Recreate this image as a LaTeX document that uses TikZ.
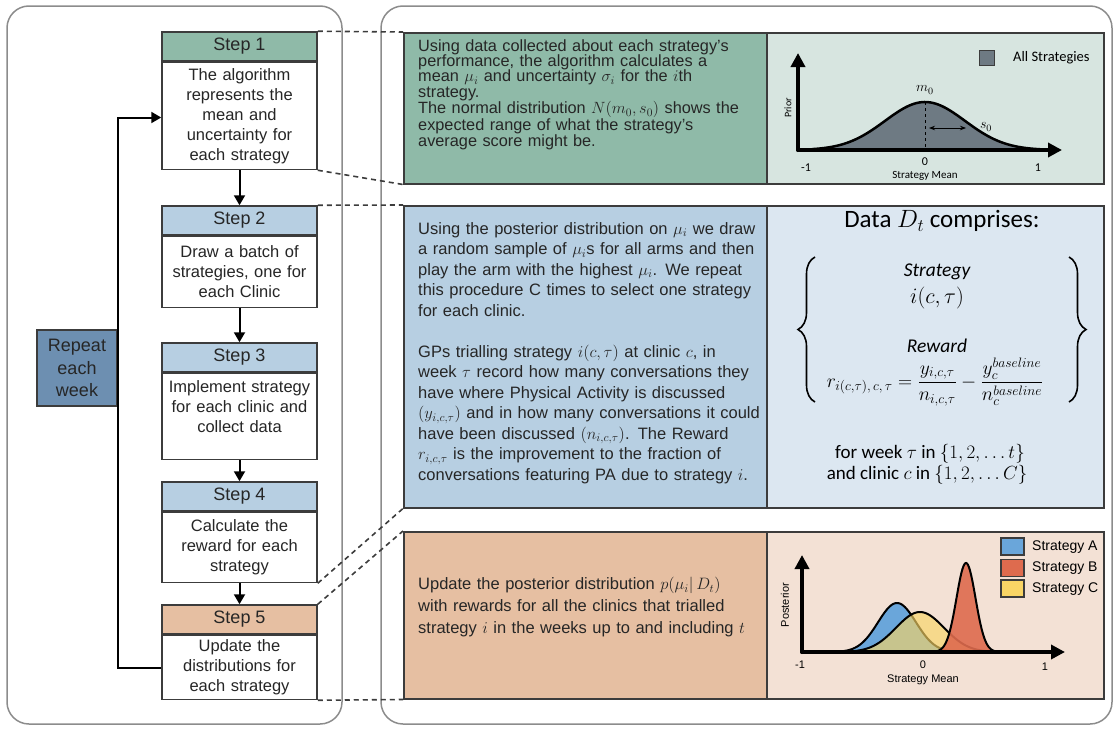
\RequirePackage{fix-cm}
\documentclass[tikz,border=0pt]{standalone}
\usepackage{amsmath}
\usepackage{fontspec}
\setmainfont{Liberation Sans}
\newfontfamily\calibfont{Carlito}
\usepackage{tikz}
\usetikzlibrary{calc, arrows.meta, decorations.pathreplacing}

\definecolor{stepgreen}{HTML}{8FBAA8}
\definecolor{panelgreen}{HTML}{D7E5E0}
\definecolor{stepblue}{HTML}{B7CFE2}
\definecolor{panelblue}{HTML}{DCE7F1}
\definecolor{steporange}{HTML}{E6BFA2}
\definecolor{panelorange}{HTML}{F3E1D5}
\definecolor{repeatblue}{HTML}{6D8FB1}
\definecolor{priorgrey}{HTML}{6E7A83}
\definecolor{stratA}{HTML}{6AA6DA}
\definecolor{stratB}{HTML}{DE6B4E}
\definecolor{stratC}{HTML}{F9D565}
\definecolor{framegrey}{HTML}{8C8C8C}
\definecolor{edgegrey}{HTML}{3C3C3C}
\definecolor{inkgrey}{HTML}{262626}

\tikzstyle{container} = [draw=framegrey, line width=1.5pt, rounded corners=22pt]
\tikzstyle{stephead} = [rectangle, draw=edgegrey, line width=1.5pt, minimum width=155pt, minimum height=29pt, inner sep=0pt, text=inkgrey, font=\fontsize{18}{20}\selectfont]
\tikzstyle{stepbody} = [rectangle, draw=edgegrey, line width=1.5pt, fill=white, anchor=north, minimum width=155pt, text width=150pt, align=center, inner sep=0pt, text=inkgrey, font=\fontsize{16.5}{20}\selectfont]
\tikzstyle{repeatbox} = [rectangle, draw=edgegrey, line width=1.5pt, fill=repeatblue, minimum width=80pt, minimum height=76pt, align=center, inner sep=0pt, text=inkgrey, font=\fontsize{18}{22.5}\selectfont]
\tikzstyle{panel} = [rectangle, draw=edgegrey, line width=1.5pt, anchor=north west, inner sep=0pt]
\tikzstyle{paneltext} = [anchor=north west, inner sep=0pt, text width=350pt, align=left, text=inkgrey]
\tikzstyle{steparrow} = [-{Triangle[length=10pt,width=11pt]}, line width=2pt, black]
\tikzstyle{zoomline} = [dash pattern=on 5pt off 4pt, line width=1.6pt, edgegrey]
\tikzstyle{axisline} = [-{Triangle[length=14pt,width=14pt]}, line width=4pt, line cap=round]
\tikzstyle{ticklab} = [inner sep=0pt, font=\calibfont\fontsize{12}{12}\selectfont]
\tikzstyle{postlab} = [inner sep=0pt, font=\fontsize{11}{11}\selectfont]
\tikzstyle{legsquare} = [rectangle, draw=edgegrey, line width=1.5pt, minimum width=23pt, minimum height=17pt, inner sep=0pt]
\tikzstyle{datatext} = [inner sep=0pt, font=\calibfont\fontsize{19}{20}\selectfont]

\begin{document}
\begin{tikzpicture}[x=1pt, y=-1pt]

        \useasboundingbox (0,0) rectangle (1116,728);

        \draw[container] (7,6) rectangle (342,724);
        \draw[container] (381,6) rectangle (1112,724);

        \node (head1) [stephead, fill=stepgreen] at (239.5,46.5) {Step 1};
        \node (body1) [stepbody, minimum height=107pt] at (head1.south) {The algorithm\\represents the\\mean and\\uncertainty for\\each strategy};

        \node (head2) [stephead, fill=stepblue] at (239.5,220.5) {Step 2};
        \node (body2) [stepbody, minimum height=71pt] at (head2.south) {Draw a batch of\\strategies, one for\\each Clinic};

        \node (head3) [stephead, fill=stepblue] at (239.5,357.5) {Step 3};
        \node (body3) [stepbody, minimum height=86pt] at (head3.south) {Implement strategy\\for each clinic and\\collect data\\\mbox{}};

        \node (head4) [stephead, fill=stepblue] at (239.5,496.5) {Step 4};
        \node (body4) [stepbody, minimum height=70pt] at (head4.south) {Calculate the\\reward for each\\strategy};

        \node (head5) [stephead, fill=steporange] at (239.5,619.5) {Step 5};
        \node (body5) [stepbody, minimum height=64pt] at (head5.south) {Update the\\distributions for\\each strategy};

        \node (repeat) [repeatbox] at (77,368) {Repeat\\each\\week};

        \draw[steparrow] (body1) -- (head2);
        \draw[steparrow] (body2) -- (head3);
        \draw[steparrow] (body3) -- (head4);
        \draw[steparrow] (body4) -- (head5);
        \draw[steparrow] (body5.west) -| (repeat.east) |- ([yshift=-1.5pt]body1.west);

        \node (pone) [panel, fill=stepgreen, minimum width=363pt, minimum height=151pt] at (403,32) {};
        \node (gone) [panel, fill=panelgreen, minimum width=337pt, minimum height=151pt] at (766,32) {};
        \node (ptwo) [panel, fill=stepblue, minimum width=363pt, minimum height=302pt] at (403,205) {};
        \node (gtwo) [panel, fill=panelblue, minimum width=337pt, minimum height=302pt] at (766,205) {};
        \node (pthree) [panel, fill=steporange, minimum width=363pt, minimum height=167pt] at (403,531) {};
        \node (gthree) [panel, fill=panelorange, minimum width=337pt, minimum height=167pt] at (766,531) {};

        \draw[zoomline] (head1.north east) -- (pone.north west);
        \draw[zoomline] (body1.south east) -- (pone.south west);
        \draw[zoomline] (head2.north east) -- (ptwo.north west);
        \draw[zoomline] (body4.south east) -- (ptwo.south west);
        \draw[zoomline] (head5.north east) -- (pthree.north west);
        \draw[zoomline] (body5.south east) -- (pthree.south west);

        \node (tone) [paneltext, font=\fontsize{16.3}{15.4}\selectfont] at (418,39) {Using data collected about each strategy's\\performance, the algorithm calculates a\\mean $\mu_i$ and uncertainty $\sigma_i$ for the $i$th\\strategy.\\The normal distribution $N(m_0,s_0)$ shows the\\expected range of what the strategy's\\average score might be.};

        \node (ttwo) [paneltext, font=\fontsize{16.5}{20.5}\selectfont] at (418,222) {Using the posterior distribution on $\mu_i$ we draw\\a random sample of $\mu_i$s for all arms and then\\play the arm with the highest $\mu_i$. We repeat\\this procedure C times to select one strategy\\for each clinic.\\[20.5pt]GPs trialling strategy $i(c,\tau)$ at clinic $c$, in\\week $\tau$ record how many conversations they\\have where Physical Activity is discussed\\$(y_{i,c,\tau})$ and in how many conversations it could\\have been discussed $(n_{i,c,\tau})$. The Reward\\$r_{i,c,\tau}$ is the improvement to the fraction of\\conversations featuring PA due to strategy $i$.};

        \node (tthree) [paneltext, font=\fontsize{16.5}{22}\selectfont] at (418,577) {Update the posterior distribution $p(\mu_i|\,D_t)$\\with rewards for all the clinics that trialled\\strategy $i$ in the weeks up to and including $t$};

        % prior chart
        \coordinate (oone) at (798,150);
        \fill[priorgrey] plot[domain=812:1040, samples=80] (\x,{150-48*exp(-0.5*((\x-925)/40)*((\x-925)/40))}) -- cycle;
        \draw[line width=2.5pt] plot[domain=812:1040, samples=80] (\x,{150-48*exp(-0.5*((\x-925)/40)*((\x-925)/40))});
        \draw[dashed, line width=1pt] (925,102) -- (925,150);
        \draw[{Stealth[length=6pt]}-{Stealth[length=6pt]}, line width=0.8pt] (929,128) -- (966,128);
        \draw[axisline] (oone) -- (1062,150);
        \draw[axisline] (oone) -- (798,53);
        \node (mzero) [inner sep=0pt, font=\fontsize{14}{14}\selectfont] at (925,90) {$m_0$};
        \node (szero) [inner sep=0pt, font=\fontsize{14}{14}\selectfont] at (986,127) {$s_0$};
        \node (pminus) [ticklab] at (806,168) {-1};
        \node (pzero) [ticklab] at (925,162) {0};
        \node (pplus) [ticklab] at (1038,168) {1};
        \node (pxlab) [ticklab, font=\calibfont\fontsize{11}{11}\selectfont] at (925,176) {Strategy Mean};
        \node (pylab) [ticklab, rotate=90, font=\calibfont\fontsize{10}{10}\selectfont] at (788,108) {Prior};
        \node (legall) [legsquare, fill=priorgrey, minimum width=15pt, minimum height=15pt] at (987,58) {};
        \node (legalltxt) [anchor=west, inner sep=0pt, font=\calibfont\fontsize{14.5}{15}\selectfont] at (1013,58) {All Strategies};

        % data panel
        \node (datahead) [inner sep=0pt, font=\calibfont\fontsize{25}{26}\selectfont] at (942,221) {Data $D_t$ comprises:};
        \node (stratlab) [datatext, font=\calibfont\itshape\fontsize{19.5}{20}\selectfont] at (937,272) {Strategy};
        \node (stratsym) [inner sep=0pt, font=\fontsize{22}{22}\selectfont] at (937,298) {$i(c,\tau)$};
        \node (rewlab) [datatext, font=\calibfont\itshape\fontsize{19.5}{20}\selectfont] at (937,346) {Reward};
        \node (rewform) [inner sep=0pt, font=\fontsize{19.5}{20}\selectfont] at (935,382) {$r_{i(c,\tau),\,c,\,\tau}=\dfrac{y_{i,c,\tau}}{n_{i,c,\tau}}-\dfrac{y_c^{baseline}}{n_c^{baseline}}$};
        \draw[decorate, decoration={brace, amplitude=17pt}, line width=1.6pt] (815,402) -- (815,257);
        \draw[decorate, decoration={brace, amplitude=17pt}, line width=1.6pt] (1069,257) -- (1069,402);
        \node (weekline) [datatext] at (930,454) {for week $\tau$ in $\{1,2,\dots t\}$};
        \node (clinicline) [datatext] at (927,475) {and clinic $c$ in $\{1,2,\dots C\}$};

        % posterior chart
        \coordinate (otwo) at (802,652);
        \filldraw[fill=stratA, line width=2pt] plot[domain=840:955, samples=70] (\x,{652-49*exp(-0.5*((\x-897)/19)*((\x-897)/19))}) -- cycle;
        \filldraw[fill=stratC, fill opacity=0.65, line width=2pt] plot[domain=850:995, samples=70] (\x,{652-40*exp(-0.5*((\x-920)/24)*((\x-920)/24))}) -- cycle;
        \filldraw[fill=stratB, fill opacity=0.9, line width=2pt] plot[domain=935:998, samples=70] (\x,{652-89*exp(-0.5*((\x-966)/9.5)*((\x-966)/9.5))}) -- cycle;
        \draw[axisline] (otwo) -- (1065,652);
        \draw[axisline] (otwo) -- (802,555);
        \node (qminus) [postlab] at (800,665) {-1};
        \node (qzero) [postlab] at (923,665) {0};
        \node (qplus) [postlab] at (1045,667) {1};
        \node (qxlab) [postlab] at (923,680) {Strategy Mean};
        \node (qylab) [postlab, rotate=90] at (785,605) {Posterior};
        \node (lega) [legsquare, fill=stratA] at (1012.5,546.5) {};
        \node (legb) [legsquare, fill=stratB] at (1012.5,568) {};
        \node (legc) [legsquare, fill=stratC] at (1012.5,588.5) {};
        \node (legatxt) [anchor=west, inner sep=0pt, font=\fontsize{14}{15}\selectfont] at (1032,547) {Strategy A};
        \node (legbtxt) [anchor=west, inner sep=0pt, font=\fontsize{14}{15}\selectfont] at (1032,568) {Strategy B};
        \node (legctxt) [anchor=west, inner sep=0pt, font=\fontsize{14}{15}\selectfont] at (1032,589) {Strategy C};

    \end{tikzpicture}
\end{document}
